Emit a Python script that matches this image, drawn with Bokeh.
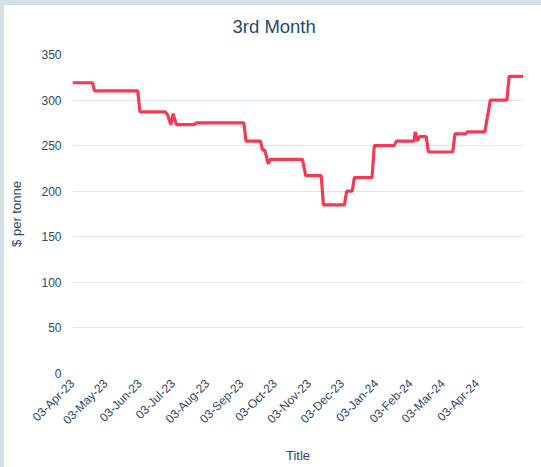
import math
import pandas as pd
from bokeh.plotting import figure
from bokeh.layouts import column
from bokeh.models import ColumnDataSource, FixedTicker, DatetimeTickFormatter, Range1d, Title
from bokeh.embed import file_html
from bokeh.resources import INLINE

# ---- data ----
dates = ["2023-04-03", "2023-04-21", "2023-04-23", "2023-06-01", "2023-06-03",
         "2023-06-26", "2023-06-28", "2023-07-01", "2023-07-03", "2023-07-06",
         "2023-07-22", "2023-07-24", "2023-09-05", "2023-09-07", "2023-09-20",
         "2023-09-22", "2023-09-24", "2023-09-27", "2023-09-29", "2023-10-28",
         "2023-10-31", "2023-11-14", "2023-11-16", "2023-12-05", "2023-12-07",
         "2023-12-12", "2023-12-14", "2023-12-30", "2024-01-01", "2024-01-19",
         "2024-01-21", "2024-02-06", "2024-02-07", "2024-02-09", "2024-02-11",
         "2024-02-17", "2024-02-19", "2024-03-12", "2024-03-14", "2024-03-24",
         "2024-03-25", "2024-04-10", "2024-04-15", "2024-04-30", "2024-05-02",
         "2024-05-15"]
prices = [319, 319, 310, 310, 287,
          287, 284, 273, 285, 273,
          273, 275, 275, 255, 255,
          245, 245, 230, 235, 235,
          217, 217, 185, 185, 200,
          200, 215, 215, 250, 250,
          255, 255, 265, 255, 260,
          260, 243, 243, 263, 263,
          265, 265, 300, 300, 326,
          326]
tick_dates = ["2023-04-03", "2023-05-03", "2023-06-03", "2023-07-03", "2023-08-03",
              "2023-09-03", "2023-10-03", "2023-11-03", "2023-12-03", "2024-01-03",
              "2024-02-03", "2024-03-03", "2024-04-03"]
y_ticks = [0, 50, 100, 150, 200, 250, 300, 350]

title_text = "3rd Month"
y_label = "$ per tonne"
x_label = "Title"

# ---- build ----
x = pd.to_datetime(dates)
src = ColumnDataSource(dict(x=x, y=prices))

txt = "#2b4a6b"
p = figure(width=537, height=462, x_axis_type="datetime",
           output_backend="svg", toolbar_location=None,
           min_border_left=68, min_border_right=18, min_border_top=49,
           min_border_bottom=94)
p.margin = (5, 0, 0, 4)
p.styles = {"background-color": "white"}
p.x_range = Range1d(x[0], x[-1])
p.y_range = Range1d(0, 350)

p.line("x", "y", source=src, line_color="#f43a52", line_width=3.2)

p.title.text = title_text
p.title.align = "left"
p.title.offset = 160
p.title.text_font = "Liberation Sans"
p.title.text_font_size = "18.5px"
p.title.text_font_style = "normal"
p.title.text_color = "#1f4a72"
p.title.standoff = 0

spacer = Title(text=" ", text_font_size="14px", standoff=0)
p.add_layout(spacer, "above")

ticks_ms = [pd.Timestamp(d).value // 10**6 for d in tick_dates]
p.xaxis.ticker = FixedTicker(ticks=ticks_ms)
fmt = "%d-%b-%y"
p.xaxis.formatter = DatetimeTickFormatter(days=fmt, months=fmt, years=fmt,
                                          hours=fmt, minutes=fmt, seconds=fmt,
                                          milliseconds=fmt, microseconds=fmt,
                                          hourmin=fmt, minsec=fmt)
p.xaxis.major_label_orientation = math.pi / 4
p.yaxis.ticker = FixedTicker(ticks=y_ticks)

for ax in (p.xaxis, p.yaxis):
    ax.axis_line_color = None
    ax.major_tick_line_color = None
    ax.minor_tick_line_color = None
    ax.major_tick_out = 0
    ax.minor_tick_out = 0
    ax.major_label_text_font = "Liberation Sans"
    ax.major_label_text_font_size = "12px"
    ax.major_label_text_color = txt
    ax.axis_label_text_font = "Liberation Sans"
    ax.axis_label_text_font_size = "13px"
    ax.axis_label_text_font_style = "normal"
    ax.axis_label_text_color = txt

p.xaxis.axis_label = x_label
p.yaxis.axis_label = y_label
p.xaxis.major_label_standoff = 8
p.yaxis.major_label_standoff = 11
p.xaxis.axis_label_standoff = 13
p.yaxis.axis_label_standoff = 14

p.xgrid.grid_line_color = None
p.ygrid.grid_line_color = "#dce8f3"
p.ygrid.grid_line_width = 1
p.outline_line_color = None

page = column(p, styles={"background-color": "#d4dfe8"})

open("out.html", "w").write(file_html(page, INLINE))
